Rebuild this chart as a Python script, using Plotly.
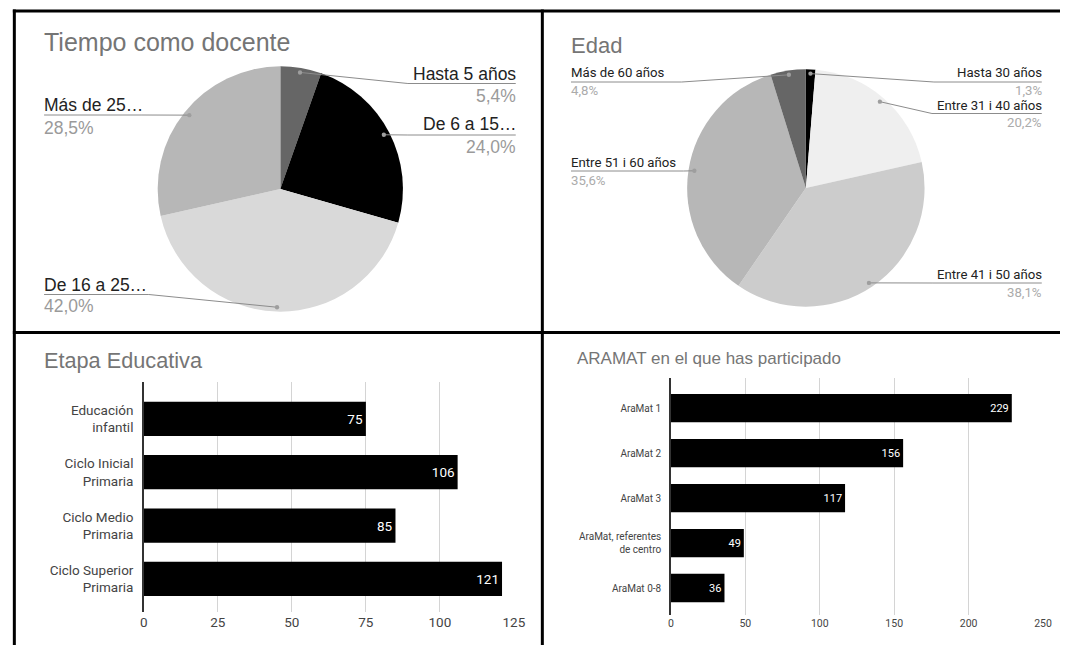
import math
import plotly.graph_objects as go

W, H = 1072, 645

# ---------------- data ----------------
pie1_title = "Tiempo como docente"
pie1_labels = ["Hasta 5 años", "De 6 a 15…", "De 16 a 25…", "Más de 25…"]
pie1_values = [5.4, 24.0, 42.0, 28.5]

pie2_title = "Edad"
pie2_labels = ["Hasta 30 años", "Entre 31 i 40 años", "Entre 41 i 50 años",
               "Entre 51 i 60 años", "Más de 60 años"]
pie2_values = [1.3, 20.2, 38.1, 35.6, 4.8]

bar1_title = "Etapa Educativa"
bar1_categories = ["Educación<br>infantil", "Ciclo Inicial<br>Primaria",
                   "Ciclo Medio<br>Primaria", "Ciclo Superior<br>Primaria"]
bar1_values = [75, 106, 85, 121]
bar1_ticks = [0, 25, 50, 75, 100, 125]

bar2_title = "ARAMAT en el que has participado"
bar2_categories = ["AraMat 1", "AraMat 2", "AraMat 3",
                   "AraMat, referentes<br>de centro", "AraMat 0-8"]
bar2_values = [229, 156, 117, 49, 36]
bar2_ticks = [0, 50, 100, 150, 200, 250]

# ---------------- style / layout constants ----------------
pie1_colors = ["#666666", "#000000", "#d9d9d9", "#b7b7b7"]
pie2_colors = ["#000000", "#efefef", "#cccccc", "#b7b7b7", "#666666"]

# pie geometry (pixels)
pie1_geom = dict(cx=280.5, cy=189, r=124.5)
pie2_geom = dict(cx=814, cy=188, r=120.5)

# label layout per slice: side, name_y, underline_y, pct_y, elbow_x
pie1_lab = [("right", 73.5, 83.5, 95.5, 410), ("right", 124, 135, 147, 410),
            ("left", 285, 294.5, 305.5, 147), ("left", 105, 115, 127.5, 140)]
pie1_text_x = {"left": 40.7, "right": 519.5}
pie2_lab = [("right", 73, 82, 90, 944), ("right", 105, 113.5, 122.5, 942),
            ("right", 274, 283, 292, 943), ("left", 162, 171, 180, 690),
            ("left", 73, 82, 90.5, 688)]
pie2_text_x = {"left": 575.6, "right": 1053.5}


def px(x):
    return x / W


def py(y):
    return 1 - y / H


fig = go.Figure()
shapes = []
annotations = []


def add_pie(labels, values, colors, geom, labs, text_x, name_size, font_family, pct_color):
    cx, cy, r = geom["cx"], geom["cy"], geom["r"]
    fig.add_trace(go.Pie(
        labels=labels, values=values, sort=False, direction="clockwise", rotation=0,
        marker=dict(colors=colors, line=dict(width=0)),
        textinfo="none", hoverinfo="skip", showlegend=False,
        domain=dict(x=[px(cx - r), px(cx + r)], y=[py(cy + r), py(cy - r)]),
    ))
    total = sum(values)
    cum = 0
    for lab, v, (side, ny, uy, pyy, ex) in zip(labels, values, labs):
        mid = (cum + v / 2) / total * 2 * math.pi
        cum += v
        dx = cx + 0.95 * r * math.sin(mid)
        dy = cy - 0.95 * r * math.cos(mid)
        end_x = text_x[side]
        path = f"M {px(dx)} {py(dy)} L {px(ex)} {py(uy)} L {px(end_x)} {py(uy)}"
        shapes.append(dict(type="path", xref="paper", yref="paper", path=path,
                           line=dict(color="#8c8c8c", width=1), layer="above"))
        shapes.append(dict(type="circle", xref="paper", yref="paper",
                           x0=px(dx - 2.2), x1=px(dx + 2.2), y0=py(dy + 2.2), y1=py(dy - 2.2),
                           fillcolor="#9e9e9e", line=dict(width=0), layer="above"))
        anchor = "left" if side == "left" else "right"
        annotations.append(dict(x=px(end_x), y=py(ny), xref="paper", yref="paper",
                                text=lab, showarrow=False, xanchor=anchor, yanchor="middle",
                                borderpad=0, borderwidth=0,
                                font=dict(size=name_size, color="#222222", family=font_family)))
        pct = f"{v:.1f}".replace(".", ",") + "%"
        annotations.append(dict(x=px(end_x), y=py(pyy), xref="paper", yref="paper",
                                text=pct, showarrow=False, xanchor=anchor, yanchor="middle",
                                borderpad=0, borderwidth=0,
                                font=dict(size=name_size, color=pct_color, family=font_family)))


add_pie(pie1_labels, pie1_values, pie1_colors, pie1_geom, pie1_lab, pie1_text_x, 17.5,
        "Liberation Sans, Arial, sans-serif", "#9a9a9a")
add_pie(pie2_labels, pie2_values, pie2_colors, pie2_geom, pie2_lab, pie2_text_x, 13.2,
        "Roboto, Arial, sans-serif", "#ababab")

# ---------------- bars ----------------
fig.add_trace(go.Bar(
    x=bar1_values, y=bar1_categories, orientation="h", xaxis="x", yaxis="y",
    marker=dict(color="#000000", line=dict(width=0)), width=0.64,
    texttemplate="%{x}", textposition="inside", insidetextanchor="end",
    textfont=dict(color="white", size=13.5, family="Roboto, Arial, sans-serif"),
    textangle=0, hoverinfo="skip", showlegend=False,
))
fig.add_trace(go.Bar(
    x=bar2_values, y=bar2_categories, orientation="h", xaxis="x2", yaxis="y2",
    marker=dict(color="#000000", line=dict(width=0)), width=0.63,
    texttemplate="%{x}", textposition="inside", insidetextanchor="end",
    textfont=dict(color="white", size=11, family="Roboto, Arial, sans-serif"),
    textangle=0, hoverinfo="skip", showlegend=False,
))

title_font = "Liberation Sans, Arial, sans-serif"
annotations += [
    dict(x=px(40), y=py(42), xref="paper", yref="paper", text=pie1_title, showarrow=False,
         xanchor="left", yanchor="middle", borderpad=0,
         font=dict(size=25, color="#757575", family=title_font)),
    dict(x=px(575), y=py(45), xref="paper", yref="paper", text=pie2_title, showarrow=False,
         xanchor="left", yanchor="middle", borderpad=0,
         font=dict(size=22, color="#757575", family=title_font)),
    dict(x=px(40), y=py(360), xref="paper", yref="paper", text=bar1_title, showarrow=False,
         xanchor="left", yanchor="middle", borderpad=0,
         font=dict(size=21.7, color="#757575", family=title_font)),
    dict(x=px(580.5), y=py(358), xref="paper", yref="paper", text=bar2_title, showarrow=False,
         xanchor="left", yanchor="middle", borderpad=0,
         font=dict(size=17, color="#757575", family=title_font)),
]

# borders
bw = 3
shapes += [
    dict(type="line", xref="paper", yref="paper", x0=px(9), x1=1, y0=py(11), y1=py(11),
         line=dict(color="black", width=bw), layer="above"),
    dict(type="line", xref="paper", yref="paper", x0=px(10.5), x1=px(10.5), y0=py(9.5), y1=0,
         line=dict(color="black", width=bw), layer="above"),
    dict(type="line", xref="paper", yref="paper", x0=px(546.5), x1=px(546.5), y0=py(9.5), y1=0,
         line=dict(color="black", width=bw), layer="above"),
    dict(type="line", xref="paper", yref="paper", x0=px(9), x1=1, y0=py(332.5), y1=py(332.5),
         line=dict(color="black", width=bw), layer="above"),
]

tick_font1 = dict(size=13.5, color="#444444", family="Roboto, Arial, sans-serif")
tick_font2 = dict(size=10, color="#444444", family="Roboto, Arial, sans-serif")
tick_font2x = dict(size=10.5, color="#444444", family="Roboto, Arial, sans-serif")

fig.update_layout(
    width=W, height=H, margin=dict(l=0, r=0, t=0, b=0), autosize=False,
    paper_bgcolor="white", plot_bgcolor="white", showlegend=False,
    shapes=shapes, annotations=annotations,
    xaxis=dict(domain=[px(142), px(517.6)], range=[0, 125], tickvals=bar1_ticks,
               showgrid=True, gridcolor="#d4d4d4", gridwidth=1, zeroline=False,
               showline=False, ticks="", tickfont=tick_font1, anchor="y", fixedrange=True),
    yaxis=dict(domain=[py(612), py(382)], range=[3.62, -0.69], type="category",
               showgrid=False, zeroline=False, showline=True, linecolor="#333333",
               linewidth=1.5, ticks="", tickfont=tick_font1, anchor="x",
               ticklabelstandoff=6, fixedrange=True),
    xaxis2=dict(domain=[px(677), px(1054.8)], range=[0, 250], tickvals=bar2_ticks,
                showgrid=True, gridcolor="#d4d4d4", gridwidth=1, zeroline=False,
                showline=False, ticks="", tickfont=tick_font2x, anchor="y2", fixedrange=True),
    yaxis2=dict(domain=[py(615), py(378)], range=[4.6, -0.67], type="category",
                showgrid=False, zeroline=False, showline=True, linecolor="#333333",
                linewidth=1.5, ticks="", tickfont=tick_font2, anchor="x2",
                ticklabelstandoff=6, fixedrange=True),
)

fig.write_html("out.html", config={"responsive": False, "displayModeBar": False},
               post_script="document.body.style.margin='0';document.body.style.overflow='hidden';")
